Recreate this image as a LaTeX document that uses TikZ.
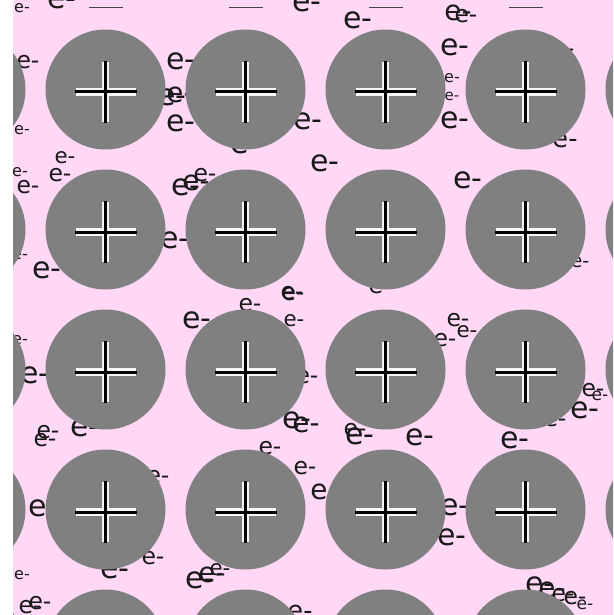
\documentclass[tikz,border=0pt]{standalone}
\usepackage{fontspec}
\newfontfamily\elfont{DejaVu Sans}
\usetikzlibrary{positioning}
\definecolor{blush}{RGB}{255,216,246}
\definecolor{slate}{RGB}{128,128,128}
\tikzset{pics/ion/.style={code={
  \fill[slate] (0,0) circle (60pt);
  \draw[white!92!slate,line width=7.5pt,line cap=square] (-30,2.5) -- (30,2.5) (0,-27.5) -- (0,32.5);
  \draw[black,line width=3pt] (-31,2.5) -- (31,2.5) (0,-28.5) -- (0,33.5);
}},
  elec/.style={font=\elfont\fontsize{#1}{#1}\selectfont,inner sep=0pt,scale=1.07,text=black!90},
  elec/.default=28}

\begin{document}
\begin{tikzpicture}[x=1pt,y=-1pt]
        \useasboundingbox (0,0) rectangle (613,615);
        \fill[white] (0,0) rectangle (613,615);
        \fill[blush] (13,0) rectangle (613,615);
        \begin{scope}
          \clip (13,0) rectangle (613,615);
          % free electrons, under the lattice
          \foreach \x/\y/\s [count=\n] in {
              22/8/15, 62/0/28, 307/3/28, 358/20/28, 458/13/26, 466/16/22,
              28/62/22, 181/61/28, 172/97/28, 180/95/26, 181/123/28,
              22/130/15, 65/158/20, 60/175/22, 20/172/15, 28/187/22,
              186/187/28, 196/183/26, 205/175/22,
              308/121/28, 245/145/28, 325/163/28,
              455/47/28, 452/78/15, 452/96/14, 455/120/28, 563/50/22,
              565/140/24, 468/180/28,
              20/255/15, 47/270/28, 175/240/28, 197/320/28,
              250/305/22, 292/293/22, 293/294/22, 294/321/20,
              438/220/15, 580/262/18, 380/287/22, 307/377/22, 20/340/15,
              445/340/22, 458/320/22, 467/332/20, 593/390/22, 600/396/16,
              35/375/28,
              297/420/28, 306/425/26, 360/436/28, 355/430/22,
              420/437/28, 515/440/28, 585/410/28, 555/420/22,
              270/448/22, 305/468/22, 324/492/26,
              455/507/28, 452/537/28,
              45/440/22, 48/432/22, 85/428/28, 43/508/28, 158/477/22,
              153/558/22, 115/570/28, 22/575/15, 40/603/22, 30/607/22,
              200/580/28, 212/575/26, 220/570/20, 300/612/24,
              540/585/28, 552/590/26, 563/595/22, 575/598/22, 585/605/16}
            \node[elec=\s] (e\n) at (\x,\y) {e-};
          % ion lattice
          \foreach \cx in {-34.5,105.5,245.5,385.5,525.5,665.5}
            \foreach \cy in {89.5,229.5,369.5,509.5,649.5}
              \pic at (\cx,\cy) {ion};
          \foreach \cx in {105.5,245.5,385.5,525.5}
            \draw[slate!55!black,line width=1.3pt] (\cx-17,7.5) -- (\cx+17,7.5);
        \end{scope}
      \end{tikzpicture}
\end{document}
